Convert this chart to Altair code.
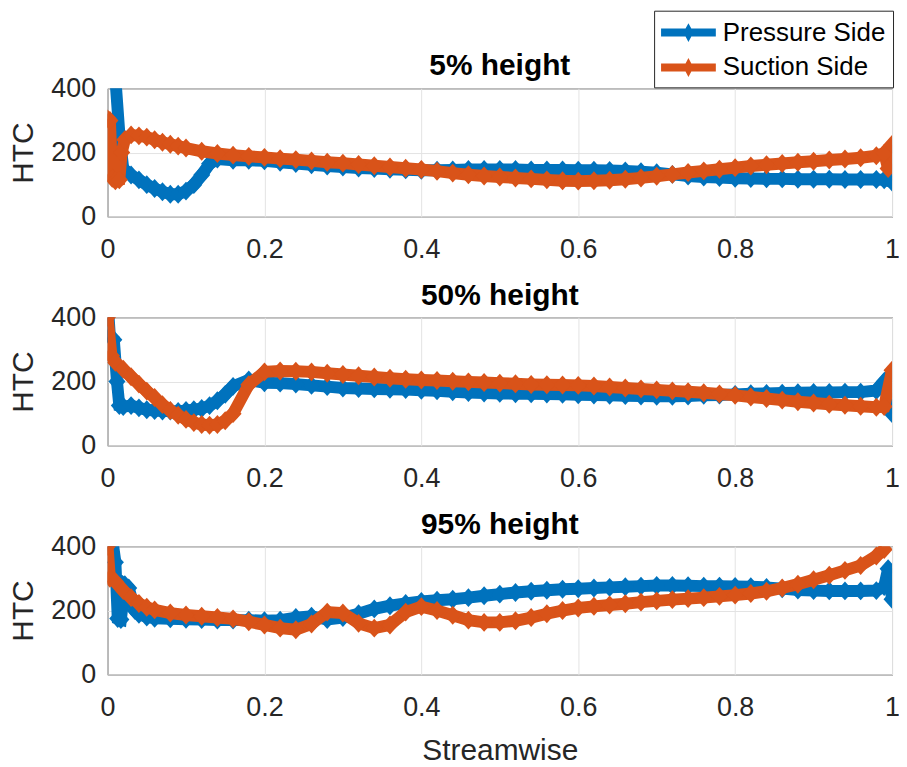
import altair as alt
import pandas as pd

FONT = "Liberation Sans"
BLUE = "#0072BD"
ORANGE = "#D95319"
SIDES = ["Pressure Side", "Suction Side"]

# shared streamwise stations for the middle of each curve
x_mid = [0.16, 0.18, 0.20, 0.22, 0.24, 0.26, 0.28, 0.30, 0.32, 0.34,
         0.36, 0.38, 0.40, 0.42, 0.44, 0.46, 0.48, 0.50, 0.52, 0.54,
         0.56, 0.58, 0.60, 0.62, 0.64, 0.66, 0.68, 0.70, 0.72, 0.74,
         0.76, 0.78, 0.80, 0.82, 0.84, 0.86, 0.88, 0.90, 0.92, 0.94,
         0.96, 0.98]

# ---- 5% height ----
ps5_lead_x = [0, 0.005, 0.01, 0.015, 0.02, 0.03, 0.04, 0.05, 0.06, 0.07, 0.08, 0.09, 0.10, 0.11, 0.12, 0.13, 0.14]
ps5_lead_y = [450, 450, 430, 260, 150, 130, 115, 100, 88, 78, 70, 70, 80, 100, 130, 165, 180]
ps5_mid_y = [176, 176, 174, 170, 166, 162, 158, 155, 152, 150,
             148, 146, 145, 145, 146, 147, 147, 147, 147, 146,
             146, 146, 145, 145, 144, 143, 140, 137, 132, 127,
             124, 122, 120, 119, 118, 118, 117, 117, 117, 116,
             116, 116]
ps5_tail_x = [0.99, 1.0]
ps5_tail_y = [115, 108]

ss5_lead_x = [0, 0.003, 0.006, 0.01, 0.015, 0.018, 0.022, 0.03, 0.04, 0.05, 0.06, 0.07, 0.08, 0.09, 0.10, 0.12, 0.14]
ss5_lead_y = [305, 300, 120, 112, 115, 200, 240, 255, 252, 248, 240, 232, 226, 220, 214, 204, 197]
ss5_mid_y = [192, 188, 185, 181, 178, 174, 170, 167, 163, 159,
             155, 151, 147, 142, 136, 131, 127, 124, 121, 118,
             115, 112, 111, 112, 114, 117, 121, 126, 132, 138,
             143, 148, 153, 158, 162, 166, 170, 173, 177, 180,
             184, 190]
ss5_tail_x = [0.99, 0.995, 1.0]
ss5_tail_y = [198, 150, 225]

# ---- 50% height ----
ps50_lead_x = [0, 0.003, 0.008, 0.012, 0.015, 0.02, 0.03, 0.04, 0.05, 0.06, 0.07, 0.08, 0.09, 0.10, 0.11, 0.12, 0.13, 0.14, 0.15]
ps50_lead_y = [450, 340, 330, 200, 125, 122, 125, 118, 112, 110, 108, 108, 107, 110, 112, 116, 125, 140, 160]
ps50_mid_y = [185, 205, 196, 195, 192, 188, 184, 180, 178, 177,
              176, 175, 173, 171, 168, 166, 164, 163, 162, 162,
              161, 160, 159, 158, 157, 156, 155, 154, 154, 155,
              157, 158, 160, 162, 163, 164, 165, 166, 166, 167,
              167, 172]
ps50_tail_x = [0.99, 0.995, 1.0]
ps50_tail_y = [200, 130, 100]

ss50_lead_x = [0, 0.005, 0.01, 0.02, 0.03, 0.04, 0.05, 0.06, 0.07, 0.08, 0.09, 0.10, 0.11, 0.12, 0.13, 0.14, 0.15]
ss50_lead_y = [400, 280, 260, 238, 215, 192, 170, 150, 128, 110, 95, 82, 72, 66, 64, 66, 78]
ss50_mid_y = [100, 190, 230, 233, 232, 230, 226, 222, 218, 214,
              210, 207, 205, 203, 201, 199, 197, 195, 193, 191,
              190, 189, 188, 186, 183, 180, 177, 174, 171, 168,
              165, 161, 157, 152, 147, 142, 137, 133, 129, 126,
              123, 120]
ss50_tail_x = [0.99, 1.0]
ss50_tail_y = [122, 235]

# ---- 95% height ----
ps95_lead_x = [0, 0.005, 0.01, 0.013, 0.017, 0.022, 0.027, 0.035, 0.04, 0.05, 0.06, 0.08, 0.10, 0.12, 0.14]
ps95_lead_y = [450, 440, 350, 175, 172, 280, 270, 200, 188, 180, 176, 174, 173, 172, 170]
ps95_mid_y = [170, 170, 168, 170, 178, 182, 172, 178, 190, 205,
              215, 222, 228, 232, 235, 240, 246, 251, 256, 260,
              263, 266, 268, 270, 272, 274, 276, 278, 278, 277,
              276, 276, 275, 274, 272, 268, 264, 262, 261, 261,
              261, 262]
ps95_tail_x = [0.99, 0.995, 1.0]
ps95_tail_y = [275, 330, 235]

ss95_lead_x = [0, 0.003, 0.01, 0.02, 0.03, 0.04, 0.05, 0.06, 0.08, 0.10, 0.12, 0.14]
ss95_lead_y = [400, 300, 290, 262, 240, 222, 210, 202, 192, 186, 182, 178]
ss95_mid_y = [174, 165, 155, 145, 140, 158, 195, 192, 160, 145,
              155, 195, 212, 200, 185, 170, 163, 163, 168, 178,
              190, 200, 208, 213, 217, 221, 226, 230, 234, 237,
              240, 244, 248, 253, 260, 270, 282, 296, 310, 325,
              340, 370]
ss95_tail_x = [0.99]
ss95_tail_y = [390]

titles = ["5% height", "50% height", "95% height"]


def series(lead_x, lead_y, mid_y, tail_x, tail_y, side):
    xs = list(lead_x) + list(x_mid) + list(tail_x)
    ys = list(lead_y) + list(mid_y) + list(tail_y)
    return pd.DataFrame({"x": xs, "htc": ys, "side": side, "order": range(len(xs))})


panels_data = [
    (series(ps5_lead_x, ps5_lead_y, ps5_mid_y, ps5_tail_x, ps5_tail_y, SIDES[0]),
     series(ss5_lead_x, ss5_lead_y, ss5_mid_y, ss5_tail_x, ss5_tail_y, SIDES[1])),
    (series(ps50_lead_x, ps50_lead_y, ps50_mid_y, ps50_tail_x, ps50_tail_y, SIDES[0]),
     series(ss50_lead_x, ss50_lead_y, ss50_mid_y, ss50_tail_x, ss50_tail_y, SIDES[1])),
    (series(ps95_lead_x, ps95_lead_y, ps95_mid_y, ps95_tail_x, ps95_tail_y, SIDES[0]),
     series(ss95_lead_x, ss95_lead_y, ss95_mid_y, ss95_tail_x, ss95_tail_y, SIDES[1])),
]

MARKER = "M0,-1L0.9,0L0,1L-0.9,0Z"
# legend glyph: thick bar with a diamond, drawn from -1 to 2.667 (scale = 15 px)
LEGEND_SYMBOL = ("M-1,-0.267L0.64,-0.267L0.833,-0.633L1.026,-0.267L2.667,-0.267"
                 "L2.667,0.267L1.026,0.267L0.833,0.633L0.64,0.267L-1,0.267Z")

PLOT_W = 788
PLOT_H = 129


def make_panel(i, title, ps, ss):
    last = i == 2
    x = alt.X("x:Q",
              scale=alt.Scale(domain=[0, 1], nice=False, zero=False),
              axis=alt.Axis(values=[0, 0.2, 0.4, 0.6, 0.8, 1], format="~g",
                            title="Streamwise" if last else None,
                            labelFlush=False, labelPadding=20, titlePadding=15))
    y = alt.Y("htc:Q",
              scale=alt.Scale(domain=[0, 400], nice=False),
              axis=alt.Axis(values=[0, 200, 400], title="HTC",
                            labelPadding=12, titlePadding=12))
    legend = None
    if i == 0:
        legend = alt.Legend(title=None, orient="none", legendX=PLOT_W - 239, legendY=-78,
                            direction="vertical", symbolType=LEGEND_SYMBOL,
                            symbolSize=900, symbolStrokeWidth=0,
                            labelFont=FONT, labelFontSize=26, labelColor="black",
                            labelOffset=32, rowPadding=7, padding=7,
                            fillColor="white", strokeColor="#262626",
                            labelLimit=400)
    color = alt.Color("side:N", scale=alt.Scale(domain=SIDES, range=[BLUE, ORANGE]),
                      legend=legend)
    layers = []
    for df in (ps, ss):
        base = alt.Chart(df)
        line = base.mark_line(strokeWidth=12, clip=True).encode(
            x=x, y=y, color=color, order="order:Q")
        pts = base.mark_point(shape=MARKER, filled=True, size=361, opacity=1,
                              clip=True, strokeWidth=0).encode(
            x=x, y=y, color=color)
        layers += [line, pts]
    return alt.layer(*layers).properties(
        width=PLOT_W, height=PLOT_H,
        title=alt.TitleParams(title, font=FONT, fontSize=30, fontWeight="bold",
                              color="black", frame="group",
                              offset=-71 if i == 0 else -7.5))


panels = [make_panel(i, t, ps, ss) for i, (t, (ps, ss)) in enumerate(zip(titles, panels_data))]

chart = alt.vconcat(*panels, spacing=17).resolve_scale(color="independent").configure(
    background="white", padding={"left": 0, "top": 0, "right": -2, "bottom": 0}
).configure_view(
    stroke="#262626", strokeWidth=1
).configure_axis(
    domain=False, ticks=False, grid=True, gridColor="#e3e3e3", gridWidth=1,
    labelFont=FONT, labelFontSize=27, labelColor="#262626",
    titleFont=FONT, titleFontSize=30, titleFontWeight="normal", titleColor="#262626"
)

chart.save("out.html", embed_options={"renderer": "svg", "actions": False})
